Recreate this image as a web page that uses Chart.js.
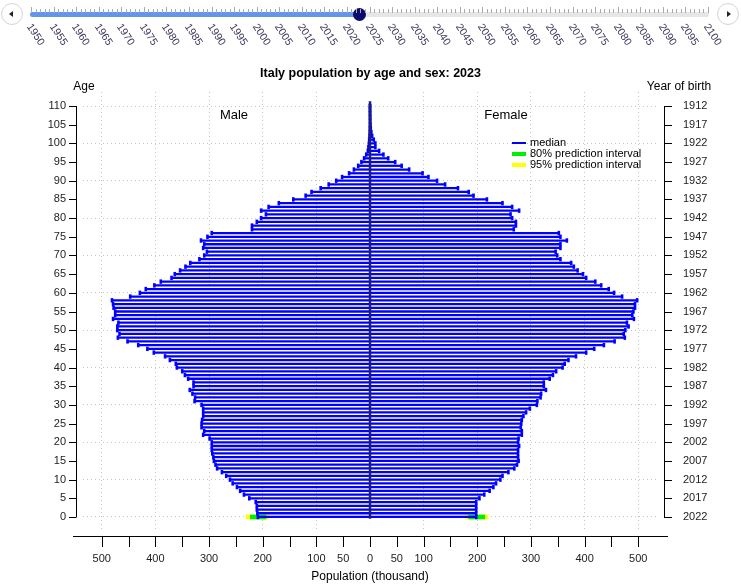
<!DOCTYPE html>
<html>
<head>
<meta charset="utf-8">
<title>Italy population by age and sex: 2023</title>
<script src="https://cdn.jsdelivr.net/npm/chart.js@4.4.1/dist/chart.umd.min.js"></script>
<style>
  body { margin: 0; background: #fff; font-family: "Liberation Sans", Arial, sans-serif; }
  #wrap { position: relative; width: 741px; height: 586px; overflow: hidden; }
  #chart { position: absolute; left: 0; top: 0; }
  .btn { position: absolute; top: 3px; width: 22px; height: 22px; border: 1px solid #d4d4d4; border-radius: 50%; background: #fff; box-sizing: border-box; }
  .btn i { position: absolute; top: 7px; width: 0; height: 0; border-top: 3px solid transparent; border-bottom: 3px solid transparent; }
  #prev { left: 1px; }
  #prev i { left: 7px; border-right: 4px solid #222; }
  #next { left: 717px; }
  #next i { left: 9px; border-left: 4px solid #222; }
  #track { position: absolute; left: 30px; top: 12px; width: 679px; height: 5px; background: #e6e6e6; border-radius: 3px; }
  #fill { position: absolute; left: 0; top: 0; height: 5px; background: #6495ed; border-radius: 3px; }
  #thumb { position: absolute; top: 8px; width: 13px; height: 13px; border-radius: 50%; background: #0b0b6e; }
  .tk { position: absolute; width: 1px; background: #aaa; }
  .yr { position: absolute; top: 21px; font-size: 10.5px; color: #3a3a5a; transform-origin: 0 0; transform: rotate(57deg); white-space: nowrap; }
</style>
</head>
<body>
<div id="wrap">
  <canvas id="chart" width="741" height="586"></canvas>
  <div id="slider">
    <div class="btn" id="prev"><i></i></div>
    <div id="track"><div id="fill"></div></div>
    <div id="thumb"></div>
    <div class="btn" id="next"><i></i></div>
  </div>
</div>
<script>
// single ages 0..110
const ages = Array.from({ length: 111 }, (_, i) => i);

// population in thousands, median projection 2023
const male = [
  209, 210, 211, 211, 213, 225, 235, 242, 248, 256,
  261, 268, 276, 285, 288, 291, 292, 294, 295, 295,
  295, 299, 311, 309, 314, 314, 313, 311, 311, 311,
  314, 327, 326, 331, 336, 329, 329, 339, 345, 350,
  360, 362, 373, 382, 403, 415, 432, 452, 470, 467,
  471, 471, 469, 479, 475, 475, 478, 479, 481, 447,
  429, 418, 402, 390, 370, 364, 354, 344, 335, 318,
  309, 304, 311, 309, 315, 303, 295, 220, 220, 211,
  203, 194, 203, 189, 170, 143, 120, 109, 92, 77,
  63, 52, 39, 30, 22, 16, 11, 7, 4, 3,
  2, 1.5, 1, 0.6, 0.4, 0.2, 0.1, 0.05, 0, 0, 0
];
const female = [
  198, 198, 198, 198, 198, 204, 213, 223, 230, 235,
  243, 247, 258, 269, 274, 277, 276, 276, 276, 278,
  276, 277, 283, 283, 281, 282, 283, 286, 291, 298,
  311, 312, 318, 319, 328, 324, 324, 335, 341, 347,
  359, 363, 370, 384, 403, 418, 436, 456, 475, 473,
  476, 482, 479, 492, 489, 491, 494, 494, 498, 470,
  455, 445, 431, 420, 403, 397, 387, 380, 375, 355,
  349, 346, 355, 355, 367, 355, 352, 268, 272, 272,
  265, 262, 278, 265, 247, 218, 193, 184, 164, 140,
  125, 109, 98, 73, 59, 47, 34, 25, 17, 10,
  10, 7, 4, 2.5, 1.5, 1, 0.5, 0.3, 0.1, 0.05, 0
];

// prediction intervals (only age 0 is uncertain)
const male80 = [194, 223];
const male95 = [188, 231];
const female80 = [184, 214];
const female95 = [177, 220];

const ageTicks = [0, 5, 10, 15, 20, 25, 30, 35, 40, 45, 50, 55, 60, 65, 70, 75, 80, 85, 90, 95, 100, 105, 110];
const popTicks = [-500, -450, -400, -350, -300, -250, -200, -150, -100, -50, 0, 50, 100, 150, 200, 250, 300, 350, 400, 450, 500];
const popLabelled = [0, 50, 100, 200, 300, 400, 500];
const baseYear = 2022;

const years = [];
for (let y = 1950; y <= 2100; y++) years.push(y);
const currentYear = 2023;

// slider on top
const x0 = 31, x1 = 708;
const yx = y => x0 + (y - 1950) * (x1 - x0) / 150;
const slider = document.getElementById('slider');
years.forEach(y => {
  const t = document.createElement('div');
  t.className = 'tk';
  const major = y % 5 === 0;
  t.style.left = Math.round(yx(y)) + 'px';
  t.style.top = major ? '7px' : '9px';
  t.style.height = major ? '6px' : '4px';
  slider.appendChild(t);
  if (major) {
    const l = document.createElement('div');
    l.className = 'yr';
    l.textContent = y;
    l.style.left = (yx(y) + 4) + 'px';
    slider.appendChild(l);
  }
});
document.getElementById('fill').style.width = (yx(currentYear) - 30) + 'px';
document.getElementById('thumb').style.left = (yx(currentYear) - 7.5) + 'px';

const BLUE = '#0000ff';
const GREEN = '#00ee00';
const YELLOW = '#ffff00';
const FONT = '"Liberation Sans", Arial, sans-serif';

// R-like axes with a gap, labels and legend
const decor = {
  id: 'decor',
  afterDraw(chart) {
    const { ctx, chartArea: a, scales: { x, y } } = chart;
    ctx.save();
    ctx.strokeStyle = '#000';
    ctx.lineWidth = 1;
    const lx = a.left - 7, rx = a.right + 7, by = a.bottom + 5;
    const yTop = y.getPixelForValue(110), yBot = y.getPixelForValue(0);
    ctx.beginPath();
    ctx.moveTo(lx + 0.5, yTop); ctx.lineTo(lx + 0.5, yBot);
    ctx.moveTo(rx + 0.5, yTop); ctx.lineTo(rx + 0.5, yBot);
    ageTicks.forEach(v => {
      const py = Math.round(y.getPixelForValue(v)) + 0.5;
      ctx.moveTo(lx - 7, py); ctx.lineTo(lx + 0.5, py);
      ctx.moveTo(rx, py); ctx.lineTo(rx + 8, py);
    });
    ctx.moveTo(lx - 3, by + 0.5); ctx.lineTo(rx + 4, by + 0.5);
    popTicks.forEach(v => {
      const px = Math.round(x.getPixelForValue(v)) + 0.5;
      ctx.moveTo(px, by); ctx.lineTo(px, by + 11);
    });
    ctx.stroke();

    // zero line
    ctx.strokeStyle = '#1c1c7a';
    ctx.lineWidth = 2.5;
    ctx.beginPath();
    const zx = x.getPixelForValue(0);
    ctx.moveTo(zx, y.getPixelForValue(111.3));
    ctx.lineTo(zx, y.getPixelForValue(-0.5));
    ctx.stroke();

    ctx.fillStyle = '#000';
    ctx.textBaseline = 'middle';
    ctx.textAlign = 'center';
    ctx.font = '12px ' + FONT;
    ctx.fillText('Age', a.left + 1, 87);
    ctx.fillText('Year of birth', a.right + 22, 87);
    ctx.font = '13px ' + FONT;
    ctx.fillText('Male', 234, 115);
    ctx.fillText('Female', 506, 115);

    const items = [['median', BLUE, 2], ['80% prediction interval', GREEN, 4], ['95% prediction interval', YELLOW, 4]];
    ctx.font = '11px ' + FONT;
    ctx.textAlign = 'left';
    items.forEach((it, i) => {
      const ly = 143 + i * 11;
      ctx.strokeStyle = it[1];
      ctx.lineWidth = it[2];
      ctx.beginPath();
      ctx.moveTo(512, ly); ctx.lineTo(526, ly);
      ctx.stroke();
      ctx.fillText(it[0], 530, ly);
    });
    ctx.restore();
  }
};

const setTicks = list => s => { s.ticks = list.map(v => ({ value: v })); };
const tickFont = { family: FONT, size: 11 };

new Chart(document.getElementById('chart'), {
  type: 'bar',
  data: {
    datasets: [
      {
        type: 'bar', label: '95% prediction interval', indexAxis: 'y', grouped: false, order: 4,
        xAxisID: 'x', yAxisID: 'y',
        data: [{ y: 0, x: [-male95[1], -male95[0]] }, { y: 0, x: female95 }],
        backgroundColor: YELLOW, barThickness: 4
      },
      {
        type: 'bar', label: '80% prediction interval', indexAxis: 'y', grouped: false, order: 3,
        xAxisID: 'x', yAxisID: 'y',
        data: [{ y: 0, x: [-male80[1], -male80[0]] }, { y: 0, x: female80 }],
        backgroundColor: GREEN, barThickness: 4
      },
      {
        type: 'bar', label: 'Male', indexAxis: 'y', grouped: false, order: 2,
        xAxisID: 'x', yAxisID: 'y',
        data: ages.map((a, i) => ({ y: a, x: -male[i] })),
        backgroundColor: BLUE, barThickness: 1.6
      },
      {
        type: 'bar', label: 'Female', indexAxis: 'y', grouped: false, order: 2,
        xAxisID: 'x', yAxisID: 'y',
        data: ages.map((a, i) => ({ y: a, x: female[i] })),
        backgroundColor: BLUE, barThickness: 1.6
      },
      {
        type: 'scatter', label: 'ends', xAxisID: 'x', yAxisID: 'y', order: 1,
        data: ages.map((a, i) => ({ x: -male[i], y: a })).concat(ages.map((a, i) => ({ x: female[i], y: a }))),
        pointStyle: 'line', rotation: 90, radius: 2.2, borderWidth: 2.6,
        borderColor: BLUE, backgroundColor: BLUE
      }
    ]
  },
  options: {
    responsive: false,
    animation: false,
    layout: { padding: 0 },
    plugins: {
      legend: { display: false },
      tooltip: { enabled: false },
      title: {
        display: true,
        text: 'Italy population by age and sex: 2023',
        color: '#000',
        font: { family: FONT, size: 12.5, weight: 'bold' },
        padding: { top: 66.5, bottom: 10.5 }
      }
    },
    scales: {
      x: {
        type: 'linear', min: -535, max: 535, offset: false,
        afterBuildTicks: setTicks(popTicks),
        afterFit: s => { s.height = 55; },
        ticks: {
          autoSkip: false, maxRotation: 0, padding: 21, color: '#222', font: tickFont,
          callback: v => popLabelled.includes(Math.abs(v)) ? String(Math.abs(v)) : ''
        },
        grid: {
          drawTicks: false, offset: false,
          color: c => (c.tick && c.tick.value % 100 === 0 && c.tick.value !== 0) ? '#c4c4c4' : 'rgba(0,0,0,0)'
        },
        border: { display: false, dash: [1, 3] },
        title: {
          display: true, text: 'Population (thousand)', color: '#000',
          font: { family: FONT, size: 12 }, padding: { top: 0, bottom: 2 }
        }
      },
      y: {
        type: 'linear', position: 'left', min: -3.75, max: 113.75, offset: false,
        afterBuildTicks: setTicks(ageTicks),
        afterFit: s => { s.width = 83; },
        ticks: { autoSkip: false, padding: 17, color: '#222', font: tickFont },
        grid: {
          drawTicks: false, offset: false,
          color: c => (c.tick && c.tick.value % 10 === 0) ? '#c4c4c4' : 'rgba(0,0,0,0)'
        },
        border: { display: false, dash: [1, 3] }
      },
      y2: {
        type: 'linear', position: 'right', min: -3.75, max: 113.75, offset: false,
        afterBuildTicks: setTicks(ageTicks),
        afterFit: s => { s.width = 84; },
        ticks: { autoSkip: false, padding: 18, color: '#222', font: tickFont, callback: v => String(baseYear - v) },
        grid: { display: false, offset: false },
        border: { display: false }
      }
    }
  },
  plugins: [decor]
});
</script>
</body>
</html>
